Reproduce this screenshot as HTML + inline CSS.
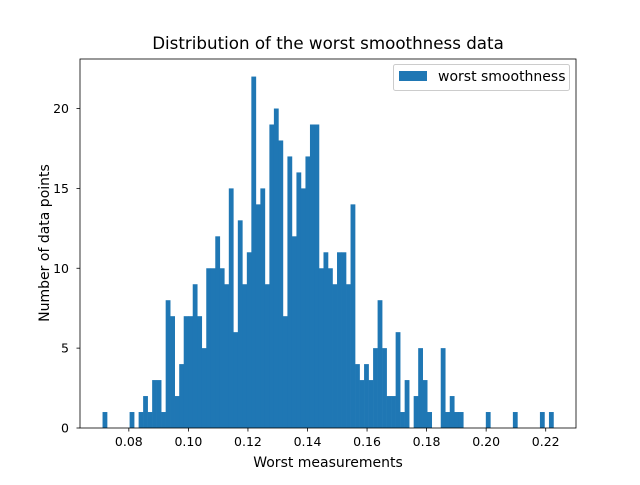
<!DOCTYPE html>
<html><head><meta charset="utf-8"><style>
body{margin:0;background:#fff}
svg{font-family:"DejaVu Sans","Liberation Sans",sans-serif}
</style></head><body>
<svg id="c" width="640" height="480" viewBox="0 0 640 480">
<rect width="640" height="480" fill="#fff"/>
<text x="328" y="49" font-size="16.7" text-anchor="middle">Distribution of the worst smoothness data</text>
<g id="bars"></g>
<g id="axes"></g>
<text x="328" y="467" font-size="14" text-anchor="middle">Worst measurements</text>
<text transform="translate(49,243) rotate(-90)" font-size="14" text-anchor="middle">Number of data points</text>
<g>
<rect x="393.5" y="64.5" width="176" height="26" rx="2" fill="#fff" stroke="#ccc"/>
<rect x="399" y="71" width="28" height="10" fill="#1f77b4"/>
<text x="438" y="81" font-size="14">worst smoothness</text>
</g>
</svg>
<script>
const binMin = 0.07117;
const binMax = 0.2226;
const counts = [1,0,0,0,0,0,1,0,1,2,1,3,3,1,8,7,2,4,7,7,9,7,5,10,10,12,10,9,15,6,13,9,11,22,14,15,9,19,20,18,7,17,12,16,15,17,19,19,10,11,10,9,11,11,9,14,4,3,4,3,5,8,5,2,2,6,1,3,0,2,5,3,1,0,0,5,1,2,1,1,0,0,0,0,0,1,0,0,0,0,0,1,0,0,0,0,0,1,0,1];
const xTicks = [0.08,0.10,0.12,0.14,0.16,0.18,0.20,0.22];
const yTicks = [0,5,10,15,20];
const L=80,R=576,T=59,B=428;
const span=binMax-binMin, xlo=binMin-0.05*span, xhi=binMax+0.05*span;
const ymax=Math.max(...counts)*1.05;
const sx=v=>L+(v-xlo)/(xhi-xlo)*(R-L);
const sy=v=>B-v/ymax*(B-T);
const NS="http://www.w3.org/2000/svg";
const bars=document.getElementById('bars'), axes=document.getElementById('axes');
const w=span/counts.length;
counts.forEach((c,i)=>{
  if(!c) return;
  const r=document.createElementNS(NS,'rect');
  const x0=sx(binMin+i*w), x1=sx(binMin+(i+1)*w);
  r.setAttribute('x',x0);r.setAttribute('width',x1-x0+0.3);
  r.setAttribute('y',sy(c));r.setAttribute('height',B-sy(c));
  r.setAttribute('fill','#1f77b4');
  
  
  bars.appendChild(r);
});
const frame=document.createElementNS(NS,'rect');
frame.setAttribute('x',L);frame.setAttribute('y',T);frame.setAttribute('width',R-L);frame.setAttribute('height',B-T);
frame.setAttribute('fill','none');frame.setAttribute('stroke','#000');frame.setAttribute('stroke-width','0.8');


axes.appendChild(frame);
xTicks.forEach(t=>{
  const x=sx(t);
  const l=document.createElementNS(NS,'line');
  l.setAttribute('x1',x);l.setAttribute('x2',x);l.setAttribute('y1',B);l.setAttribute('y2',B+3.5);l.setAttribute('stroke','#000');l.setAttribute('stroke-width','0.8');
  
  
  axes.appendChild(l);
  const tx=document.createElementNS(NS,'text');
  tx.setAttribute('x',x);tx.setAttribute('y',B+18);tx.setAttribute('font-size','12.5');tx.setAttribute('text-anchor','middle');
  tx.textContent=t.toFixed(2);
  
  
  axes.appendChild(tx);
});
yTicks.forEach(t=>{
  const y=sy(t);
  const l=document.createElementNS(NS,'line');
  l.setAttribute('x1',L-3.5);l.setAttribute('x2',L);l.setAttribute('y1',y);l.setAttribute('y2',y);l.setAttribute('stroke','#000');l.setAttribute('stroke-width','0.8');
  
  
  axes.appendChild(l);
  const tx=document.createElementNS(NS,'text');
  tx.setAttribute('x',L-11);tx.setAttribute('y',y+4.5);tx.setAttribute('font-size','12.5');tx.setAttribute('text-anchor','end');
  tx.textContent=t;
  
  
  axes.appendChild(tx);
});
</script>
</body></html>
